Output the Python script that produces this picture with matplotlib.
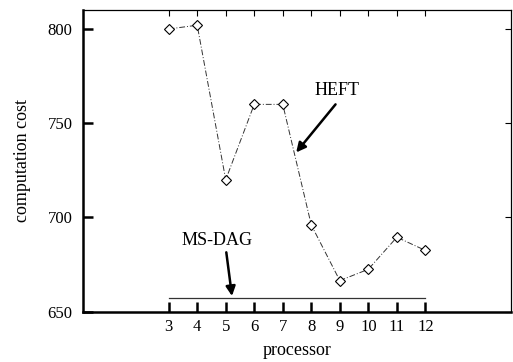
import matplotlib
matplotlib.use('Agg')
import matplotlib.pyplot as plt

plt.rcParams['font.family'] = ['Liberation Serif', 'DejaVu Serif']

processors = [3, 4, 5, 6, 7, 8, 9, 10, 11, 12]
heft = [800, 802, 720, 760, 760, 696, 666.5, 672.5, 689.5, 682.5]
msdag = [657.5] * len(processors)

fig = plt.figure(figsize=(5.13, 3.62), dpi=100)
ax = fig.add_axes([0.162, 0.139, 0.834, 0.833])

ax.plot(processors, heft, color='#333333', lw=0.7, linestyle=(0, (6, 2, 1, 2)),
        marker='D', markersize=5.5, markerfacecolor='white', markeredgecolor='black',
        markeredgewidth=0.8)
ax.plot(processors, msdag, color='#333333', lw=0.9)

ax.set_xlim(0, 15)
ax.set_ylim(650, 810)
ax.set_xticks(processors)
ax.set_yticks([650, 700, 750, 800])
ax.tick_params(direction='in', top=True, right=True, labelsize=12)
ax.tick_params(axis='x', pad=5)
ax.tick_params(axis='y', pad=7.5)
# thick ticks on bottom/left, thin on top/right
for t in ax.xaxis.get_major_ticks() + ax.yaxis.get_major_ticks():
    t.tick1line.set_markersize(7)
    t.tick1line.set_markeredgewidth(1.8)
    t.tick2line.set_markersize(4.5)
    t.tick2line.set_markeredgewidth(0.8)
for side in ['left', 'bottom']:
    ax.spines[side].set_linewidth(1.8)
for side in ['top', 'right']:
    ax.spines[side].set_linewidth(0.9)

ax.set_xlabel('processor', fontsize=13, labelpad=5)
ax.set_ylabel('computation cost', fontsize=13, labelpad=12)

arrow = dict(arrowstyle='-|>', color='black', lw=1.8, mutation_scale=14, shrinkA=0, shrinkB=0)
ax.annotate('', xy=(7.47, 734.5), xytext=(8.85, 760), arrowprops=arrow)
ax.text(8.9, 767.5, 'HEFT', ha='center', va='center', fontsize=13)
ax.annotate('', xy=(5.22, 658.3), xytext=(5.02, 681.5), arrowprops=arrow)
ax.text(4.7, 688, 'MS-DAG', ha='center', va='center', fontsize=13)

fig.savefig('out.png', dpi=100)
